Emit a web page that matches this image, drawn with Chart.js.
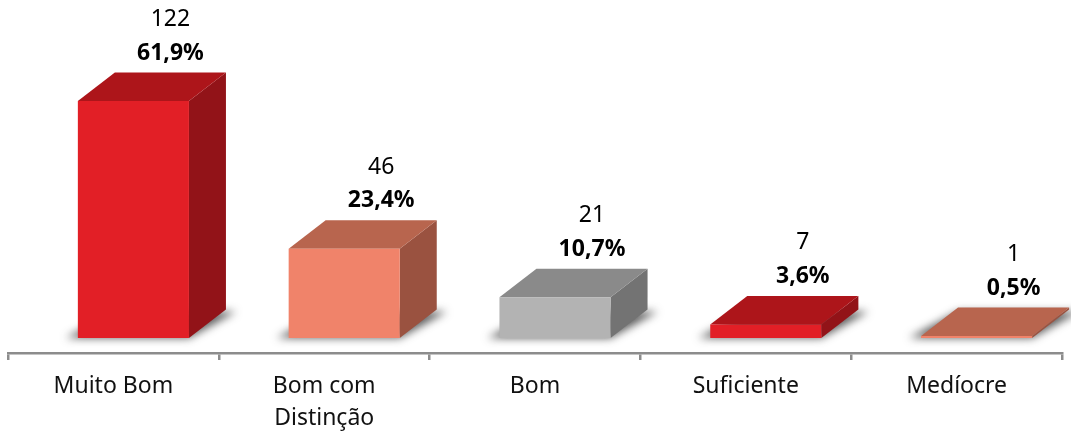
<!DOCTYPE html>
<html>
<head>
<meta charset="utf-8">
<script src="https://cdn.jsdelivr.net/npm/chart.js@4.4.0/dist/chart.umd.min.js"></script>
<style>
  html, body { margin: 0; padding: 0; background: #fff; }
  #wrap { width: 1071px; height: 436px; }
</style>
</head>
<body>
<div id="wrap"><canvas id="notas"></canvas></div>
<script>
// data
var categories = ["Muito Bom", ["Bom com", "Distinção"], "Bom", "Suficiente", "Medíocre"];
var counts = [122, 46, 21, 7, 1];
var percents = [61.9, 23.4, 10.7, 3.6, 0.5];

// colours: front, top, side
var frontColors = ["#e21f26", "#f0836a", "#b3b3b3", "#e21f26", "#f0836a"];
var topColors   = ["#ad151a", "#b8654e", "#8a8a8a", "#ad151a", "#b8654e"];
var sideColors  = ["#921318", "#9a5240", "#737373", "#921318", "#9a5240"];

var FONT = "'Noto Sans', 'Open Sans', sans-serif";
var depthX = 37, depthY = 28.5, shiftX = 20;

var bar3d = {
  id: 'bar3d',
  beforeDatasetsDraw: function(chart) {
    var ctx = chart.ctx;
    ctx.save();
    ctx.translate(shiftX, 0);
    chart.getDatasetMeta(0).data.forEach(function(el, i) {
      var p = el.getProps(['x', 'y', 'base', 'width'], true);
      var x0 = p.x - p.width / 2, x1 = p.x + p.width / 2;
      // soft floor shadow
      ctx.save();
      ctx.filter = 'blur(4px)';
      ctx.fillStyle = 'rgba(40,40,40,0.75)';
      ctx.beginPath();
      ctx.moveTo(x0 - 12, p.base);
      ctx.lineTo(x1, p.base);
      ctx.lineTo(x1 + depthX + 10, p.base - depthY + 2);
      ctx.lineTo(x0 + depthX, p.base - depthY + 2);
      ctx.closePath();
      ctx.fill();
      ctx.restore();
      // side face
      ctx.fillStyle = sideColors[i];
      ctx.beginPath();
      ctx.moveTo(x1, p.y);
      ctx.lineTo(x1 + depthX, p.y - depthY);
      ctx.lineTo(x1 + depthX, p.base - depthY);
      ctx.lineTo(x1, p.base);
      ctx.closePath();
      ctx.fill();
      // top face
      ctx.fillStyle = topColors[i];
      ctx.beginPath();
      ctx.moveTo(x0, p.y);
      ctx.lineTo(x1, p.y);
      ctx.lineTo(x1 + depthX, p.y - depthY);
      ctx.lineTo(x0 + depthX, p.y - depthY);
      ctx.closePath();
      ctx.fill();
    });
  },
  afterDatasetsDraw: function(chart) {
    var ctx = chart.ctx;
    ctx.restore();
    ctx.save();
    ctx.textAlign = 'center';
    ctx.textBaseline = 'alphabetic';
    ctx.fillStyle = '#000';
    chart.getDatasetMeta(0).data.forEach(function(el, i) {
      var p = el.getProps(['x', 'y'], true);
      var cx = p.x + shiftX + depthX;
      var yPct = p.y - depthY - 13;
      ctx.font = 'bold 23px ' + FONT;
      ctx.fillText(percents[i].toFixed(1).replace('.', ',') + '%', cx, yPct);
      ctx.font = '23px ' + FONT;
      ctx.fillText(String(counts[i]), cx, yPct - 33.5);
    });
    ctx.restore();
  }
};

var ctx = document.getElementById("notas").getContext('2d');
var notas = new Chart(ctx, {
  type: 'bar',
  data: {
    labels: categories,
    datasets: [{
      data: counts,
      backgroundColor: frontColors,
      borderWidth: 0,
      categoryPercentage: 1,
      barPercentage: 0.527
    }]
  },
  options: {
    responsive: true,
    maintainAspectRatio: false,
    animation: false,
    layout: { padding: { top: 0, left: 8, right: 9, bottom: 0 } },
    plugins: { legend: { display: false }, tooltip: { enabled: false } },
    scales: {
      y: { display: false, min: -7.72, max: 174 },
      x: {
        border: { color: '#8c8c8c', width: 2.5 },
        grid: { drawOnChartArea: false, drawTicks: true, tickLength: 7, color: '#8c8c8c', lineWidth: 2.5 },
        ticks: {
          color: '#111',
          font: { family: FONT, size: 23, lineHeight: 1.4 },
          padding: 10,
          maxRotation: 0,
          autoSkip: false
        },
        afterFit: function(scale) { scale.height = 83; }
      }
    }
  },
  plugins: [bar3d]
});
</script>
</body>
</html>
